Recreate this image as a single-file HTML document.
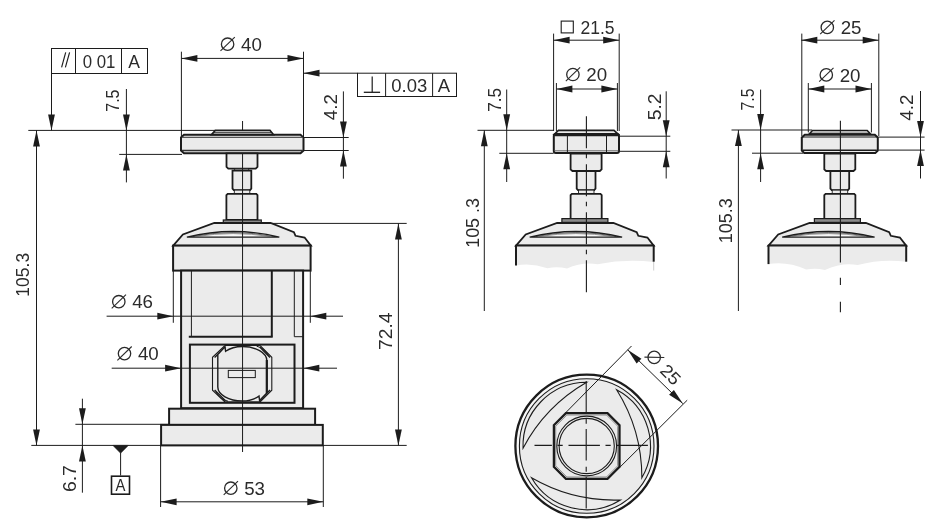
<!DOCTYPE html>
<html><head><meta charset="utf-8"><style>
html,body{margin:0;padding:0;background:#fff;}
svg{display:block;}
text{font-family:"Liberation Sans",sans-serif;fill:#2b2b2b;}
#d{will-change:transform;}
</style></head><body>
<svg id="d" width="934" height="530" viewBox="0 0 934 530">
<rect width="934" height="530" fill="#fff"/>
<path d="M181.00,137.60 L184.00,134.80 L300.50,134.80 L303.50,137.60 L303.50,150.50 L300.50,153.30 L184.00,153.30 L181.00,150.50 Z" fill="#ebebeb" stroke="#1c1c1c" stroke-width="2" stroke-linejoin="miter" />
<path d="M211.50,134.60 L215.30,130.40 L270.00,130.40 L273.50,134.60 Z" fill="#ebebeb" stroke="#1c1c1c" stroke-width="1.6" stroke-linejoin="miter" />
<line x1="214.00" y1="132.70" x2="271.00" y2="132.70" stroke="#1c1c1c" stroke-width="0.9" />
<line x1="182.00" y1="137.40" x2="302.50" y2="137.40" stroke="#555" stroke-width="1.3" />
<line x1="182.00" y1="150.50" x2="302.50" y2="150.50" stroke="#333" stroke-width="1.4" />
<path d="M226.50,153.30 L257.50,153.30 L257.50,166.80 L255.70,168.60 L228.30,168.60 L226.50,166.80 Z" fill="#ebebeb" stroke="#1c1c1c" stroke-width="1.8" stroke-linejoin="miter" />
<rect x="234.70" y="168.4" width="14" height="2.4" fill="#8a8a8a" stroke="#1c1c1c" stroke-width="0.8"/>
<path d="M232.50,170.60 L251.30,170.60 L251.30,188.60 L250.00,190.10 L233.80,190.10 L232.50,188.60 Z" fill="#ebebeb" stroke="#1c1c1c" stroke-width="1.8" stroke-linejoin="miter" />
<rect x="234.30" y="190.1" width="15.5" height="3.6" fill="#ebebeb" stroke="#1c1c1c" stroke-width="0.9"/>
<path d="M227.70,193.90 L256.30,193.90 L257.50,195.20 L257.50,220.00 L226.40,220.00 L226.40,195.20 Z" fill="#ebebeb" stroke="#1c1c1c" stroke-width="1.8" stroke-linejoin="miter" />
<rect x="223.30" y="220" width="38" height="3.1" fill="#8a8a8a" stroke="#1c1c1c" stroke-width="1.2"/>
<path d="M214.30,223.00 L270.60,223.00 L293.90,232.20 L295.50,235.80 L304.60,237.50 L310.90,245.60 L173.20,245.60 L182.90,234.40 Z" fill="#ebebeb" stroke="#1c1c1c" stroke-width="1.8" stroke-linejoin="miter" />
<path d="M186.90,237.1 Q233.10,225.8 279.30,237.1 Z" fill="#f7f7f7" stroke="#1c1c1c" stroke-width="1.4" />
<path d="M192.10,236.6 Q233.10,228.5 274.10,236.6" fill="none" stroke="#333" stroke-width="0.7" />
<path d="M196.10,236.6 Q233.10,230.5 270.10,236.6" fill="none" stroke="#555" stroke-width="0.6" />
<rect x="173.10" y="245.6" width="137.5" height="25" fill="#ebebeb" stroke="#1c1c1c" stroke-width="2"/>
<rect x="181.10" y="270.6" width="122" height="137.6" fill="#ebebeb" stroke="#1c1c1c" stroke-width="2"/>
<line x1="173.30" y1="270.60" x2="173.30" y2="322.80" stroke="#1c1c1c" stroke-width="1" />
<line x1="310.30" y1="270.60" x2="310.30" y2="322.80" stroke="#1c1c1c" stroke-width="1" />
<line x1="191.40" y1="271.00" x2="191.40" y2="336.70" stroke="#1c1c1c" stroke-width="1" />
<line x1="271.80" y1="271.00" x2="271.80" y2="336.70" stroke="#1c1c1c" stroke-width="2" />
<line x1="188.80" y1="336.70" x2="272.70" y2="336.70" stroke="#1c1c1c" stroke-width="2" />
<line x1="294.30" y1="271.00" x2="294.30" y2="336.70" stroke="#1c1c1c" stroke-width="1" />
<line x1="294.30" y1="336.70" x2="303.00" y2="336.70" stroke="#1c1c1c" stroke-width="1" />
<rect x="189.90" y="344.6" width="104.6" height="58.2" fill="#ebebeb" stroke="#1c1c1c" stroke-width="2"/>
<path d="M224.90,345.50 L260.10,345.50 L271.80,357.30 L271.80,390.20 L260.10,401.90 L224.90,401.90 L212.50,390.20 L212.50,357.30 Z" fill="#ebebeb" stroke="#1c1c1c" stroke-width="1.1" stroke-linejoin="miter" />
<path d="M214.6,357.6 L225.2,347 M259.8,347 L270,357.4 M270,390 L259.8,400.4 M225.2,400.4 L214.6,390" fill="none" stroke="#1c1c1c" stroke-width="1.4" />
<path d="M242.3,346.5 C255.8,346.5 266.8,352.8 266.8,360.6 L266.8,392.9 L259.6,400.6 L259,396.1 C254.5,399.3 248.5,400.9 242.3,400.9 C228.8,400.9 217.8,394.6 217.8,387 L217.8,354.5 L225,346.8 L225.6,351.3 C230.1,348.1 236.1,346.5 242.3,346.5 Z" fill="#ebebeb" stroke="#1c1c1c" stroke-width="1.4" />
<line x1="266.80" y1="360.00" x2="266.80" y2="393.00" stroke="#1c1c1c" stroke-width="2.2" />
<path d="M256.6,346.2 C262,347.5 266,350.5 268.5,355.5" fill="none" stroke="#1c1c1c" stroke-width="1.0" />
<path d="M228,401.2 C222.5,400 218.5,397 216.1,392" fill="none" stroke="#1c1c1c" stroke-width="1.0" />
<rect x="228.3" y="370.4" width="27" height="7.2" fill="#ebebeb" stroke="#1c1c1c" stroke-width="1"/>
<rect x="169.10" y="408.7" width="146" height="16.2" fill="#ebebeb" stroke="#1c1c1c" stroke-width="2"/>
<rect x="161.10" y="424.9" width="161.7" height="20.5" fill="#ebebeb" stroke="#1c1c1c" stroke-width="2"/>
<line x1="242.55" y1="121.00" x2="242.55" y2="130.40" stroke="#1c1c1c" stroke-width="1" />
<line x1="242.55" y1="153.30" x2="242.55" y2="452.00" stroke="#1c1c1c" stroke-width="1" />
<rect x="51.5" y="48.5" width="96" height="25" fill="none" stroke="#1c1c1c" stroke-width="1"/>
<line x1="75.50" y1="48.50" x2="75.50" y2="73.50" stroke="#1c1c1c" stroke-width="1.0" />
<line x1="121.50" y1="48.50" x2="121.50" y2="73.50" stroke="#1c1c1c" stroke-width="1.0" />
<line x1="61.60" y1="67.40" x2="65.70" y2="52.30" stroke="#1c1c1c" stroke-width="1.15" />
<line x1="65.40" y1="67.40" x2="69.60" y2="52.30" stroke="#1c1c1c" stroke-width="1.15" />
<text transform="translate(99.00 67.90) rotate(0) scale(0.960 1)" x="0" y="0" font-size="17.5" text-anchor="middle" >0 01</text>
<text x="134.20" y="67.90" font-size="17.5" text-anchor="middle" >A</text>
<line x1="51.50" y1="73.50" x2="51.50" y2="130.40" stroke="#1c1c1c" stroke-width="1.0" />
<path d="M51.50,130.40 L48.10,114.40 L54.90,114.40 Z" fill="#1c1c1c"/>
<line x1="28.30" y1="130.40" x2="215.00" y2="130.40" stroke="#1c1c1c" stroke-width="1.0" />
<line x1="126.40" y1="89.00" x2="126.40" y2="182.40" stroke="#1c1c1c" stroke-width="1.0" />
<path d="M126.40,130.40 L123.00,114.40 L129.80,114.40 Z" fill="#1c1c1c"/>
<path d="M126.40,154.40 L129.80,170.40 L123.00,170.40 Z" fill="#1c1c1c"/>
<line x1="119.20" y1="154.40" x2="182.00" y2="154.40" stroke="#1c1c1c" stroke-width="1.0" />
<text transform="translate(119.30 100.60) rotate(-90) scale(0.910 1)" x="0" y="0" font-size="17.5" text-anchor="middle" >7.5</text>
<line x1="36.50" y1="130.40" x2="36.50" y2="445.40" stroke="#1c1c1c" stroke-width="1.0" />
<path d="M36.50,130.40 L39.90,146.40 L33.10,146.40 Z" fill="#1c1c1c"/>
<path d="M36.50,445.40 L33.10,429.40 L39.90,429.40 Z" fill="#1c1c1c"/>
<text transform="translate(29.20 274.75) rotate(-90) scale(1.000 1)" x="0" y="0" font-size="17.5" text-anchor="middle" >105.3</text>
<line x1="31.30" y1="445.40" x2="406.70" y2="445.40" stroke="#1c1c1c" stroke-width="1.0" />
<line x1="181.40" y1="51.70" x2="181.40" y2="137.00" stroke="#1c1c1c" stroke-width="1.0" />
<line x1="303.50" y1="51.70" x2="303.50" y2="137.50" stroke="#1c1c1c" stroke-width="1.0" />
<line x1="181.40" y1="58.40" x2="303.50" y2="58.40" stroke="#1c1c1c" stroke-width="1.0" />
<path d="M181.40,58.40 L197.40,55.00 L197.40,61.80 Z" fill="#1c1c1c"/>
<path d="M303.50,58.40 L287.50,61.80 L287.50,55.00 Z" fill="#1c1c1c"/>
<g><circle cx="227.60" cy="44.20" r="6.2" fill="none" stroke="#2b2b2b" stroke-width="1.3"/><line x1="220.50" y1="50.90" x2="234.80" y2="37.10" stroke="#2b2b2b" stroke-width="1.1"/><text transform="translate(241.00 50.80) scale(1.07 1)" x="0" y="0" font-size="17.5" text-anchor="start">40</text></g>
<line x1="303.50" y1="73.20" x2="357.50" y2="73.20" stroke="#1c1c1c" stroke-width="1.0" />
<path d="M303.50,73.20 L319.50,69.80 L319.50,76.60 Z" fill="#1c1c1c"/>
<rect x="357.5" y="73.2" width="99" height="23.3" fill="none" stroke="#1c1c1c" stroke-width="1"/>
<line x1="385.60" y1="73.20" x2="385.60" y2="96.50" stroke="#1c1c1c" stroke-width="1.0" />
<line x1="432.60" y1="73.20" x2="432.60" y2="96.50" stroke="#1c1c1c" stroke-width="1.0" />
<line x1="363.80" y1="92.30" x2="380.10" y2="92.30" stroke="#1c1c1c" stroke-width="1.3" />
<line x1="372.20" y1="76.50" x2="372.20" y2="92.30" stroke="#1c1c1c" stroke-width="1.2" />
<text x="409.35" y="92.30" font-size="18.5" text-anchor="middle" >0.03</text>
<text x="443.90" y="92.30" font-size="18.5" text-anchor="middle" >A</text>
<line x1="343.40" y1="91.40" x2="343.40" y2="178.70" stroke="#1c1c1c" stroke-width="1.0" />
<path d="M343.40,137.50 L340.00,121.50 L346.80,121.50 Z" fill="#1c1c1c"/>
<path d="M343.40,150.50 L346.80,166.50 L340.00,166.50 Z" fill="#1c1c1c"/>
<line x1="303.50" y1="137.50" x2="348.70" y2="137.50" stroke="#1c1c1c" stroke-width="1.0" />
<line x1="303.50" y1="150.50" x2="348.70" y2="150.50" stroke="#1c1c1c" stroke-width="1.0" />
<text transform="translate(337.10 107.20) rotate(-90) scale(1.070 1)" x="0" y="0" font-size="17.5" text-anchor="middle" >4.2</text>
<line x1="272.00" y1="223.40" x2="406.70" y2="223.40" stroke="#1c1c1c" stroke-width="1.0" />
<line x1="398.40" y1="223.40" x2="398.40" y2="445.40" stroke="#1c1c1c" stroke-width="1.0" />
<path d="M398.40,223.40 L401.80,239.40 L395.00,239.40 Z" fill="#1c1c1c"/>
<path d="M398.40,445.40 L395.00,429.40 L401.80,429.40 Z" fill="#1c1c1c"/>
<text transform="translate(392.30 331.20) rotate(-90) scale(1.100 1)" x="0" y="0" font-size="17.5" text-anchor="middle" >72.4</text>
<line x1="106.60" y1="316.20" x2="343.00" y2="316.20" stroke="#1c1c1c" stroke-width="1.0" />
<path d="M173.30,316.20 L157.30,319.60 L157.30,312.80 Z" fill="#1c1c1c"/>
<path d="M310.30,316.20 L326.30,312.80 L326.30,319.60 Z" fill="#1c1c1c"/>
<g><circle cx="118.80" cy="301.70" r="6.2" fill="none" stroke="#2b2b2b" stroke-width="1.3"/><line x1="111.70" y1="308.40" x2="126.00" y2="294.60" stroke="#2b2b2b" stroke-width="1.1"/><text transform="translate(132.20 308.30) scale(1.07 1)" x="0" y="0" font-size="17.5" text-anchor="start">46</text></g>
<line x1="111.70" y1="368.20" x2="337.00" y2="368.20" stroke="#1c1c1c" stroke-width="1.0" />
<path d="M181.10,368.20 L165.10,371.60 L165.10,364.80 Z" fill="#1c1c1c"/>
<path d="M303.30,368.20 L319.30,364.80 L319.30,371.60 Z" fill="#1c1c1c"/>
<g><circle cx="124.50" cy="353.60" r="6.2" fill="none" stroke="#2b2b2b" stroke-width="1.3"/><line x1="117.40" y1="360.30" x2="131.70" y2="346.50" stroke="#2b2b2b" stroke-width="1.1"/><text transform="translate(137.90 360.20) scale(1.07 1)" x="0" y="0" font-size="17.5" text-anchor="start">40</text></g>
<line x1="82.40" y1="398.70" x2="82.40" y2="492.70" stroke="#1c1c1c" stroke-width="1.0" />
<path d="M82.40,424.30 L79.00,408.30 L85.80,408.30 Z" fill="#1c1c1c"/>
<path d="M82.40,445.40 L85.80,461.40 L79.00,461.40 Z" fill="#1c1c1c"/>
<line x1="75.40" y1="424.30" x2="169.00" y2="424.30" stroke="#1c1c1c" stroke-width="1.0" />
<text transform="translate(75.70 478.60) rotate(-90) scale(1.110 1)" x="0" y="0" font-size="17.5" text-anchor="middle" >6.7</text>
<path d="M112.90,445.40 L128.40,445.40 L120.60,453.30 Z" fill="#1c1c1c" stroke="#1c1c1c" stroke-width="0.5" stroke-linejoin="miter" />
<line x1="120.60" y1="453.00" x2="120.60" y2="475.50" stroke="#1c1c1c" stroke-width="1.0" />
<rect x="111.5" y="476.2" width="18" height="18" fill="none" stroke="#1c1c1c" stroke-width="1.6"/>
<text transform="translate(120.45 490.60) rotate(0) scale(0.900 1)" x="0" y="0" font-size="16.5" text-anchor="middle" >A</text>
<line x1="160.60" y1="445.40" x2="160.60" y2="507.00" stroke="#1c1c1c" stroke-width="1.0" />
<line x1="323.30" y1="445.40" x2="323.30" y2="507.00" stroke="#1c1c1c" stroke-width="1.0" />
<line x1="160.60" y1="501.80" x2="323.30" y2="501.80" stroke="#1c1c1c" stroke-width="1.0" />
<path d="M160.60,501.80 L176.60,498.40 L176.60,505.20 Z" fill="#1c1c1c"/>
<path d="M323.30,501.80 L307.30,505.20 L307.30,498.40 Z" fill="#1c1c1c"/>
<g><circle cx="230.80" cy="488.20" r="6.2" fill="none" stroke="#2b2b2b" stroke-width="1.3"/><line x1="223.70" y1="494.90" x2="238.00" y2="481.10" stroke="#2b2b2b" stroke-width="1.1"/><text transform="translate(244.20 494.80) scale(1.07 1)" x="0" y="0" font-size="17.5" text-anchor="start">53</text></g>
<path d="M554.30,134.30 L558.40,130.40 L614.00,130.40 L618.20,134.30 Z" fill="#ebebeb" stroke="#1c1c1c" stroke-width="1.6" stroke-linejoin="miter" />
<rect x="553.8" y="134.1" width="65.2" height="18.8" rx="2" fill="#ebebeb" stroke="#1c1c1c" stroke-width="2"/>
<line x1="554.50" y1="135.60" x2="618.30" y2="135.60" stroke="#1c1c1c" stroke-width="1.2" />
<line x1="554.50" y1="150.80" x2="618.30" y2="150.80" stroke="#666" stroke-width="1" />
<line x1="567.40" y1="135.60" x2="567.40" y2="152.90" stroke="#1c1c1c" stroke-width="1" />
<line x1="606.50" y1="135.60" x2="606.50" y2="152.90" stroke="#1c1c1c" stroke-width="1" />
<path d="M570.60,153.60 L601.60,153.60 L601.60,169.40 L599.80,171.00 L572.40,171.00 L570.60,169.40 Z" fill="#ebebeb" stroke="#1c1c1c" stroke-width="1.8" stroke-linejoin="miter" />
<path d="M576.70,171.00 L595.50,171.00 L595.50,188.60 L594.20,190.10 L578.00,190.10 L576.70,188.60 Z" fill="#ebebeb" stroke="#1c1c1c" stroke-width="1.8" stroke-linejoin="miter" />
<rect x="578.50" y="190.1" width="15.5" height="3.6" fill="#ebebeb" stroke="#1c1c1c" stroke-width="0.9"/>
<path d="M571.90,193.90 L600.50,193.90 L601.70,195.20 L601.70,220.00 L570.60,220.00 L570.60,195.20 Z" fill="#ebebeb" stroke="#1c1c1c" stroke-width="1.8" stroke-linejoin="miter" />
<rect x="561.90" y="218.6" width="46" height="3.8" fill="#8a8a8a" stroke="#1c1c1c" stroke-width="1.2"/>
<path d="M557.10,223.00 L613.40,223.00 L636.70,232.20 L638.30,235.80 L647.40,237.50 L653.70,245.60 L516.00,245.60 L525.70,234.40 Z" fill="#ebebeb" stroke="#1c1c1c" stroke-width="1.8" stroke-linejoin="miter" />
<path d="M529.70,237.1 Q575.90,225.8 622.10,237.1 Z" fill="#f7f7f7" stroke="#1c1c1c" stroke-width="1.4" />
<path d="M534.90,236.6 Q575.90,228.5 616.90,236.6" fill="none" stroke="#333" stroke-width="0.7" />
<path d="M538.90,236.6 Q575.90,230.5 612.90,236.6" fill="none" stroke="#555" stroke-width="0.6" />
<path d="M516.00,245.6 L653.70,245.6 L653.70,262.00 Q625.60,258.70 597.50,264.20 Q582.25,261.57 567.00,268.50 Q557.25,266.23 547.50,268.20 Q531.70,262.80 515.90,265.50 Z" fill="#ebebeb" stroke="none"/>
<line x1="516.00" y1="244.80" x2="516.00" y2="265.60" stroke="#1c1c1c" stroke-width="2" />
<line x1="653.70" y1="244.80" x2="653.70" y2="261.70" stroke="#1c1c1c" stroke-width="2" />
<line x1="516.00" y1="245.60" x2="653.70" y2="245.60" stroke="#1c1c1c" stroke-width="2" />
<line x1="653.70" y1="262.00" x2="653.70" y2="270.50" stroke="#aaa" stroke-width="0.6" />
<line x1="586.40" y1="116.30" x2="586.40" y2="292.50" stroke="#1c1c1c" stroke-width="1.1" stroke-dasharray="32,5.5,4.5,6"/>
<line x1="553.60" y1="33.60" x2="553.60" y2="131.00" stroke="#1c1c1c" stroke-width="1.0" />
<line x1="619.20" y1="33.60" x2="619.20" y2="131.00" stroke="#1c1c1c" stroke-width="1.0" />
<line x1="553.60" y1="40.20" x2="619.20" y2="40.20" stroke="#1c1c1c" stroke-width="1.0" />
<path d="M553.60,40.20 L569.60,36.80 L569.60,43.60 Z" fill="#1c1c1c"/>
<path d="M619.20,40.20 L603.20,43.60 L603.20,36.80 Z" fill="#1c1c1c"/>
<rect x="561.2" y="21.1" width="12.1" height="11.8" fill="none" stroke="#1c1c1c" stroke-width="1.1"/>
<text x="597.50" y="33.60" font-size="17.5" text-anchor="middle" >21.5</text>
<line x1="556.40" y1="83.00" x2="556.40" y2="131.00" stroke="#1c1c1c" stroke-width="1.0" />
<line x1="617.40" y1="83.00" x2="617.40" y2="131.00" stroke="#1c1c1c" stroke-width="1.0" />
<line x1="556.40" y1="89.00" x2="617.40" y2="89.00" stroke="#1c1c1c" stroke-width="1.0" />
<path d="M556.40,89.00 L572.40,85.60 L572.40,92.40 Z" fill="#1c1c1c"/>
<path d="M617.40,89.00 L601.40,92.40 L601.40,85.60 Z" fill="#1c1c1c"/>
<g><circle cx="572.90" cy="74.50" r="6.2" fill="none" stroke="#2b2b2b" stroke-width="1.3"/><line x1="565.80" y1="81.20" x2="580.10" y2="67.40" stroke="#2b2b2b" stroke-width="1.1"/><text transform="translate(586.30 81.10) scale(1.07 1)" x="0" y="0" font-size="17.5" text-anchor="start">20</text></g>
<line x1="477.50" y1="130.30" x2="553.60" y2="130.30" stroke="#1c1c1c" stroke-width="1.0" />
<line x1="506.70" y1="89.50" x2="506.70" y2="182.00" stroke="#1c1c1c" stroke-width="1.0" />
<path d="M506.70,130.30 L503.30,114.30 L510.10,114.30 Z" fill="#1c1c1c"/>
<path d="M506.70,153.30 L510.10,169.30 L503.30,169.30 Z" fill="#1c1c1c"/>
<line x1="499.30" y1="153.30" x2="553.60" y2="153.30" stroke="#1c1c1c" stroke-width="1.0" />
<text transform="translate(501.30 99.80) rotate(-90) scale(0.980 1)" x="0" y="0" font-size="17.5" text-anchor="middle" >7.5</text>
<line x1="484.30" y1="130.30" x2="484.30" y2="311.00" stroke="#1c1c1c" stroke-width="1.0" />
<path d="M484.30,130.30 L487.70,146.30 L480.90,146.30 Z" fill="#1c1c1c"/>
<text transform="translate(478.50 222.95) rotate(-90) scale(1.020 1)" x="0" y="0" font-size="17.5" text-anchor="middle" >105 .3</text>
<line x1="619.30" y1="136.20" x2="670.30" y2="136.20" stroke="#1c1c1c" stroke-width="1.0" />
<line x1="619.30" y1="151.30" x2="670.30" y2="151.30" stroke="#1c1c1c" stroke-width="1.0" />
<line x1="666.20" y1="91.30" x2="666.20" y2="178.50" stroke="#1c1c1c" stroke-width="1.0" />
<path d="M666.20,136.20 L662.80,120.20 L669.60,120.20 Z" fill="#1c1c1c"/>
<path d="M666.20,151.30 L669.60,167.30 L662.80,167.30 Z" fill="#1c1c1c"/>
<text transform="translate(660.50 106.85) rotate(-90) scale(1.100 1)" x="0" y="0" font-size="17.5" text-anchor="middle" >5.2</text>
<path d="M809.20,134.00 L812.50,130.50 L867.20,130.50 L870.50,134.00 Z" fill="#ebebeb" stroke="#1c1c1c" stroke-width="1.6" stroke-linejoin="miter" />
<line x1="810.50" y1="133.20" x2="869.30" y2="133.20" stroke="#1c1c1c" stroke-width="0.9" />
<path d="M804.80,134.70 L874.80,134.70 L877.80,137.50 L877.80,150.50 L875.30,153.10 L804.30,153.10 L801.80,150.50 L801.80,137.50 Z" fill="#ebebeb" stroke="#1c1c1c" stroke-width="2" stroke-linejoin="miter" />
<line x1="802.80" y1="137.00" x2="876.80" y2="137.00" stroke="#1c1c1c" stroke-width="1.1" />
<line x1="802.80" y1="150.30" x2="876.80" y2="150.30" stroke="#1c1c1c" stroke-width="1.5" />
<path d="M824.30,153.60 L855.30,153.60 L855.30,169.40 L853.50,171.00 L826.10,171.00 L824.30,169.40 Z" fill="#ebebeb" stroke="#1c1c1c" stroke-width="1.8" stroke-linejoin="miter" />
<path d="M830.40,171.00 L849.20,171.00 L849.20,188.60 L847.90,190.10 L831.70,190.10 L830.40,188.60 Z" fill="#ebebeb" stroke="#1c1c1c" stroke-width="1.8" stroke-linejoin="miter" />
<rect x="832.20" y="190.1" width="15.5" height="3.6" fill="#ebebeb" stroke="#1c1c1c" stroke-width="0.9"/>
<path d="M825.60,193.90 L854.20,193.90 L855.40,195.20 L855.40,220.00 L824.30,220.00 L824.30,195.20 Z" fill="#ebebeb" stroke="#1c1c1c" stroke-width="1.8" stroke-linejoin="miter" />
<rect x="814.40" y="218.6" width="46" height="3.8" fill="#8a8a8a" stroke="#1c1c1c" stroke-width="1.2"/>
<path d="M809.60,223.00 L865.90,223.00 L889.20,232.20 L890.80,235.80 L899.90,237.50 L906.20,245.60 L768.50,245.60 L778.20,234.40 Z" fill="#ebebeb" stroke="#1c1c1c" stroke-width="1.8" stroke-linejoin="miter" />
<path d="M782.20,237.1 Q828.40,225.8 874.60,237.1 Z" fill="#f7f7f7" stroke="#1c1c1c" stroke-width="1.4" />
<path d="M787.40,236.6 Q828.40,228.5 869.40,236.6" fill="none" stroke="#333" stroke-width="0.7" />
<path d="M791.40,236.6 Q828.40,230.5 865.40,236.6" fill="none" stroke="#555" stroke-width="0.6" />
<path d="M768.50,245.6 L906.20,245.6 L906.20,261.80 Q881.95,258.50 857.70,265.00 Q841.35,262.24 825.00,270.00 Q815.60,267.57 806.20,269.50 Q787.30,261.03 768.40,264.10 Z" fill="#ebebeb" stroke="none"/>
<line x1="768.50" y1="244.80" x2="768.50" y2="264.10" stroke="#1c1c1c" stroke-width="2" />
<line x1="906.20" y1="244.80" x2="906.20" y2="261.70" stroke="#1c1c1c" stroke-width="2" />
<line x1="768.50" y1="245.60" x2="906.20" y2="245.60" stroke="#1c1c1c" stroke-width="2" />
<line x1="840.40" y1="120.80" x2="840.40" y2="262.50" stroke="#1c1c1c" stroke-width="1.1" />
<line x1="840.40" y1="277.70" x2="840.40" y2="285.00" stroke="#1c1c1c" stroke-width="1.1" />
<line x1="840.40" y1="301.70" x2="840.40" y2="312.30" stroke="#1c1c1c" stroke-width="1.1" />
<line x1="801.80" y1="33.60" x2="801.80" y2="136.00" stroke="#1c1c1c" stroke-width="1.0" />
<line x1="878.80" y1="33.60" x2="878.80" y2="136.00" stroke="#1c1c1c" stroke-width="1.0" />
<line x1="801.30" y1="40.20" x2="878.70" y2="40.20" stroke="#1c1c1c" stroke-width="1.0" />
<path d="M801.30,40.20 L817.30,36.80 L817.30,43.60 Z" fill="#1c1c1c"/>
<path d="M878.70,40.20 L862.70,43.60 L862.70,36.80 Z" fill="#1c1c1c"/>
<g><circle cx="827.30" cy="27.40" r="6.2" fill="none" stroke="#2b2b2b" stroke-width="1.3"/><line x1="820.20" y1="34.10" x2="834.50" y2="20.30" stroke="#2b2b2b" stroke-width="1.1"/><text transform="translate(840.70 34.00) scale(1.07 1)" x="0" y="0" font-size="17.5" text-anchor="start">25</text></g>
<line x1="808.30" y1="83.00" x2="808.30" y2="132.40" stroke="#1c1c1c" stroke-width="1.0" />
<line x1="871.40" y1="83.00" x2="871.40" y2="132.40" stroke="#1c1c1c" stroke-width="1.0" />
<line x1="808.30" y1="89.00" x2="871.50" y2="89.00" stroke="#1c1c1c" stroke-width="1.0" />
<path d="M808.30,89.00 L824.30,85.60 L824.30,92.40 Z" fill="#1c1c1c"/>
<path d="M871.50,89.00 L855.50,92.40 L855.50,85.60 Z" fill="#1c1c1c"/>
<g><circle cx="826.30" cy="74.90" r="6.2" fill="none" stroke="#2b2b2b" stroke-width="1.3"/><line x1="819.20" y1="81.60" x2="833.50" y2="67.80" stroke="#2b2b2b" stroke-width="1.1"/><text transform="translate(839.70 81.50) scale(1.07 1)" x="0" y="0" font-size="17.5" text-anchor="start">20</text></g>
<line x1="731.50" y1="130.00" x2="812.00" y2="130.00" stroke="#1c1c1c" stroke-width="1.0" />
<line x1="760.60" y1="89.60" x2="760.60" y2="182.00" stroke="#1c1c1c" stroke-width="1.0" />
<path d="M760.60,130.00 L757.20,114.00 L764.00,114.00 Z" fill="#1c1c1c"/>
<path d="M760.60,153.30 L764.00,169.30 L757.20,169.30 Z" fill="#1c1c1c"/>
<line x1="752.00" y1="153.20" x2="803.00" y2="153.20" stroke="#1c1c1c" stroke-width="1.0" />
<text transform="translate(754.30 99.50) rotate(-90) scale(0.900 1)" x="0" y="0" font-size="17.5" text-anchor="middle" >7.5</text>
<line x1="738.40" y1="130.00" x2="738.40" y2="311.00" stroke="#1c1c1c" stroke-width="1.0" />
<path d="M738.40,130.00 L741.80,146.00 L735.00,146.00 Z" fill="#1c1c1c"/>
<text transform="translate(731.80 220.75) rotate(-90) scale(1.030 1)" x="0" y="0" font-size="17.5" text-anchor="middle" >105.3</text>
<line x1="878.60" y1="137.10" x2="924.60" y2="137.10" stroke="#1c1c1c" stroke-width="1.0" />
<line x1="878.60" y1="150.10" x2="924.60" y2="150.10" stroke="#1c1c1c" stroke-width="1.0" />
<line x1="920.50" y1="91.00" x2="920.50" y2="178.50" stroke="#1c1c1c" stroke-width="1.0" />
<path d="M920.50,137.10 L917.10,121.10 L923.90,121.10 Z" fill="#1c1c1c"/>
<path d="M920.50,150.10 L923.90,166.10 L917.10,166.10 Z" fill="#1c1c1c"/>
<text transform="translate(912.80 107.50) rotate(-90) scale(1.080 1)" x="0" y="0" font-size="17.5" text-anchor="middle" >4.2</text>
<circle cx="586.7" cy="446.0" r="71.3" fill="#f8f8f8" stroke="#1c1c1c" stroke-width="2.3"/>
<circle cx="586.7" cy="446.0" r="67.3" fill="#ebebeb" stroke="#1c1c1c" stroke-width="1.1"/>
<path d="M523.04,448.22 A63.7,63.7 0 0 1 586.70,382.30 A165,165 0 0 0 523.04,448.22 Z" fill="#ebebeb" stroke="#1c1c1c" stroke-width="1.1" />
<path d="M616.61,389.76 A63.7,63.7 0 0 1 641.87,477.85 A165,165 0 0 0 616.61,389.76 Z" fill="#ebebeb" stroke="#1c1c1c" stroke-width="1.1" />
<path d="M620.46,500.02 A63.7,63.7 0 0 1 531.53,477.85 A165,165 0 0 0 620.46,500.02 Z" fill="#ebebeb" stroke="#1c1c1c" stroke-width="1.1" />
<path d="M565.90,413.20 L607.50,413.20 L619.50,425.20 L619.50,466.80 L607.50,478.80 L565.90,478.80 L553.90,466.80 L553.90,425.20 Z" fill="#ebebeb" stroke="#1c1c1c" stroke-width="2.3" stroke-linejoin="miter" />
<path d="M566.90,415.00 L606.50,415.00 L617.70,426.20 L617.70,465.80 L606.50,477.00 L566.90,477.00 L555.70,465.80 L555.70,426.20 Z" fill="none" stroke="#666" stroke-width="0.7" stroke-linejoin="miter" />
<circle cx="586.7" cy="446.0" r="29.9" fill="none" stroke="#1c1c1c" stroke-width="1.1"/>
<circle cx="586.7" cy="446.0" r="27.6" fill="none" stroke="#1c1c1c" stroke-width="1.1"/>
<line x1="534.50" y1="445.40" x2="649.50" y2="445.40" stroke="#1c1c1c" stroke-width="1.1" stroke-dasharray="31.4,5.6,5.2,5.8" stroke-dashoffset="14"/>
<line x1="586.20" y1="381.10" x2="586.20" y2="509.50" stroke="#1c1c1c" stroke-width="1.1" stroke-dasharray="31.5,6.2,5,5.3"/>
<line x1="631.50" y1="346.00" x2="565.90" y2="412.50" stroke="#1c1c1c" stroke-width="1.0" />
<line x1="687.20" y1="400.20" x2="619.50" y2="467.60" stroke="#1c1c1c" stroke-width="1.0" />
<line x1="627.70" y1="349.80" x2="682.80" y2="403.60" stroke="#1c1c1c" stroke-width="1.0" />
<path d="M627.70,349.80 L641.42,358.71 L636.61,363.52 Z" fill="#1c1c1c"/>
<path d="M682.80,403.60 L669.08,394.69 L673.89,389.88 Z" fill="#1c1c1c"/>
<g transform="rotate(45 644.50 357.05)"><circle cx="651.60" cy="350.45" r="6.2" fill="none" stroke="#2b2b2b" stroke-width="1.3"/><line x1="644.50" y1="357.15" x2="658.80" y2="343.35" stroke="#2b2b2b" stroke-width="1.1"/><text transform="translate(665.00 357.05) scale(1.07 1)" x="0" y="0" font-size="17.5" text-anchor="start">25</text></g>
</svg></body></html>
